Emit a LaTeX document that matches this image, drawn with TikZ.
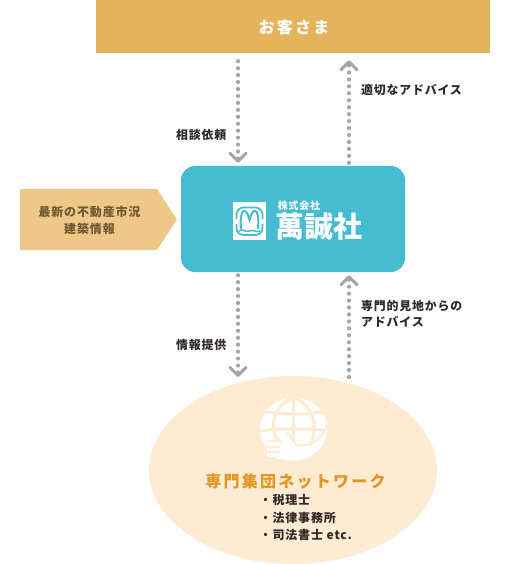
\documentclass[tikz,border=0pt]{standalone}
\usepackage{fontspec}
\setmainfont{Noto Sans CJK JP}
\newfontfamily\jptext[LetterSpace=7]{Noto Sans CJK JP}
\newfontfamily\jpwide[LetterSpace=14]{Noto Sans CJK JP}
\usetikzlibrary{positioning, arrows.meta, calc}
\definecolor{custgold}{HTML}{E5B35C}
\definecolor{infogold}{HTML}{EEC886}
\definecolor{firmteal}{HTML}{45BCCF}
\definecolor{netcream}{HTML}{FDEBD3}
\definecolor{nettitle}{HTML}{DF9622}
\definecolor{dotgray}{HTML}{A5A5A5}
\definecolor{inktext}{HTML}{2F2A28}
\definecolor{infotext}{HTML}{6F5A34}

\begin{document}
\begin{tikzpicture}[
    x=1pt, y=-1pt,
    dotarr/.style={line width=4.2pt, dotgray, line cap=round, dash pattern=on 0pt off 6.95pt,
      -{Straight Barb[length=8pt,width=16pt,line width=3pt,round]}},
    lbl/.style={font=\jptext\bfseries\fontsize{11.9}{16}\selectfont, text=inktext, inner sep=0pt, align=left},
    sublbl/.style={font=\jptext\bfseries\fontsize{12}{17}\selectfont, text=inktext, inner sep=0pt, anchor=west},
    gap/.style={netcream, line width=2pt, line cap=round}
  ]
\useasboundingbox (0,0) rectangle (510,564);

% =================== customer bar + firm box ===================
\node[fill=custgold, minimum width=394pt, minimum height=53pt, inner sep=0pt] (customer) at (293,26.5) {};
\node[font=\jpwide\bfseries\fontsize{16}{18}\selectfont, text=white] (customertext) at (294,27) {お客さま};
\node[fill=firmteal, rounded corners=14pt, minimum width=224pt, minimum height=106pt, inner sep=0pt] (firm) at (293,219) {};

% =================== network ellipse ===================
\fill[netcream] (293,470) ellipse (144 and 94);
\coordinate (network) at (293,376);

% globe, with the hand over its lower left
\begin{scope}
  \clip (293.5,429) ellipse (33.5 and 31.5);
  \fill[white] (258,396) rectangle (330,462);
  \draw[netcream, line width=3pt] (293.5,396) -- (293.5,450);
  \draw[netcream, line width=3pt] (293.5,397) .. controls (270,408) and (270,430) .. (279,445);
  \draw[netcream, line width=3pt] (293.5,397) .. controls (317,408) and (317,430) .. (310,447);
  \draw[netcream, line width=3pt] (260,411) .. controls (280,415) and (308,415) .. (328,411);
  \draw[netcream, line width=3pt] (260,431) .. controls (280,428) and (308,428) .. (328,431);
  % crescent along the lower right
  \fill[white] (327,424) .. controls (322,440) and (310,448) .. (297,445) -- (282,442) -- (270,470) -- (330,470) -- cycle;
  \draw[netcream, line width=2pt] (327,424) .. controls (322,440) and (310,448) .. (297,445);
\end{scope}
% thumb and fingers
\fill[white] (277,434) -- (287,434) -- (295,446) -- (290,459) -- (276,459) -- (276,443) -- cycle;
\draw[gap] (274.5,433) -- (279.5,440.5) -- (268,440.5);
\draw[gap] (288,433) -- (296,444.5);
\fill[white, rounded corners=1.5pt] (267,442) rectangle (283,457);
\draw[gap] (266,446.7) -- (279,446.7);
\draw[gap] (266,452.2) -- (279,452.2);

% =================== input pentagon ===================
\fill[infogold] (20,189) -- (157,189) -- (177,219.5) -- (157,250) -- (20,250) -- cycle;
\node[font=\jptext\bfseries\fontsize{12}{17}\selectfont, text=infotext, align=center, inner sep=0pt] (latest) at (89.5,220)
  {最新の不動産市況\\建築情報};

% =================== logo ===================
\fill[white] (233,202) rectangle (266,239.5);
\draw[firmteal, line width=1.7pt, rounded corners=7pt] (236.5,219) -- (236.5,207.5) -- (262.5,207.5) -- (262.5,219);
\draw[firmteal, line width=1.7pt, rounded corners=7pt] (236.5,224) -- (236.5,235) -- (262.5,235) -- (262.5,224);
\draw[firmteal, line width=2pt]
  (241,229) .. controls (239,205) and (247,208) .. (249.5,220)
  .. controls (252,208) and (260,205) .. (258,229);
\draw[firmteal, line width=1.6pt]
  (239,231) .. controls (243,228) and (245,233) .. (249.5,231) .. controls (254,229) and (256,233) .. (260,231);
\node[font=\jptext\bfseries\fontsize{10}{10}\selectfont, text=white, inner sep=0pt] (firmkind) at (299,206) {株式会社};
\node[font=\bfseries\fontsize{29}{29}\selectfont, text=white, inner sep=0pt] (firmname) at (319,227) {萬誠社};

% =================== dotted arrows ===================
\coordinate (leftlane) at (238,100);
\coordinate (rightlane) at (349,100);
\draw[dotarr, shorten <=8pt, shorten >=3pt] (customer.south -| leftlane) -- (firm.north -| leftlane);
\draw[dotarr, shorten <=3pt, shorten >=7pt] (firm.north -| rightlane) -- (customer.south -| rightlane);
\draw[dotarr, shorten <=3pt, shorten >=-1pt] (firm.south -| leftlane) -- (leftlane |- network);
\draw[dotarr, shorten <=-1pt, shorten >=3pt] (rightlane |- network) -- (firm.south -| rightlane);

% =================== labels ===================
\node[lbl, anchor=west] (ask) at (176,135) {相談依頼};
\node[lbl, anchor=west] (advice) at (361,90) {適切なアドバイス};
\node[lbl, anchor=west] (inform) at (176,345) {情報提供};
\node[lbl, anchor=west] (expert) at (361,314) {専門的見地からの\\アドバイス};

\node[font=\jpwide\bfseries\fontsize{16}{18}\selectfont, text=nettitle, inner sep=0pt] (nettext) at (295.5,481) {専門集団ネットワーク};
\node[sublbl] (tax) at (259.5,500) {・税理士};
\node[sublbl] (law) at (259.5,517.5) {・法律事務所};
\node[sublbl] (scrivener) at (259.5,535) {・司法書士 etc.};
\end{tikzpicture}
\end{document}
